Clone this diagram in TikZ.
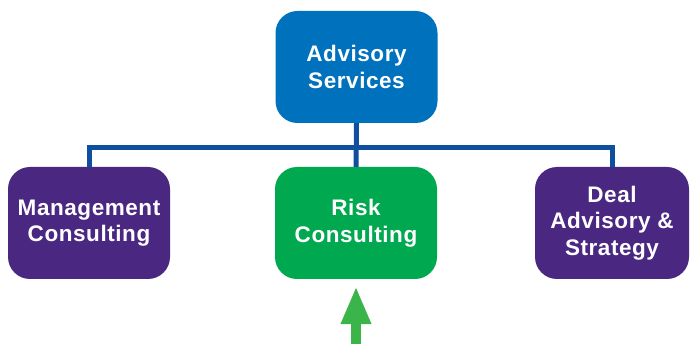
\documentclass[tikz,border=0pt]{standalone}
\usepackage{fontspec}
\setmainfont{Liberation Sans}
\newfontfamily\boxfont[LetterSpace=2.5]{Liberation Sans}
\usetikzlibrary{arrows.meta}
\definecolor{topblue}{HTML}{0071BD}
\definecolor{kpurple}{HTML}{4A2882}
\definecolor{kgreen}{HTML}{00A84F}
\definecolor{linkblue}{HTML}{0F4FA0}
\definecolor{arrowgreen}{HTML}{3BB54A}
\begin{document}
\begin{tikzpicture}[x=1pt,y=-1pt,
  orgbox/.style={rectangle, rounded corners=22pt, minimum width=162pt, minimum height=112pt,
    inner sep=0pt, text=white, align=center,
    font=\boxfont\bfseries\fontsize{22.5}{26.5}\selectfont},
  conn/.style={draw=linkblue, line width=5pt},
  uparrow/.style={draw=arrowgreen, fill=arrowgreen, line width=9.5pt,
    -{Triangle[length=38pt,width=28pt]}}]
\useasboundingbox (0,0) rectangle (690,344);
\node[orgbox, fill=topblue] (top) at (356.5,67) {Advisory\\Services};
\node[orgbox, fill=kpurple] (mgmt) at (89,223) {Management\\Consulting};
\node[orgbox, fill=kgreen] (risk) at (356,223) {Risk\\Consulting};
\node[orgbox, fill=kpurple, minimum width=154pt] (deal) at (612,223) {Deal\\Advisory \&\\Strategy};
\coordinate (bus) at (0,148);
\coordinate (abase) at (356,346);
\draw[conn] (top.south) -- (risk.north);
\draw[conn] (mgmt.north) -- (mgmt.north |- bus) -- (deal.north |- bus) -- (deal.north);
\draw[uparrow] (abase) -- ([yshift=-7pt]risk.south);
\end{tikzpicture}
\end{document}
